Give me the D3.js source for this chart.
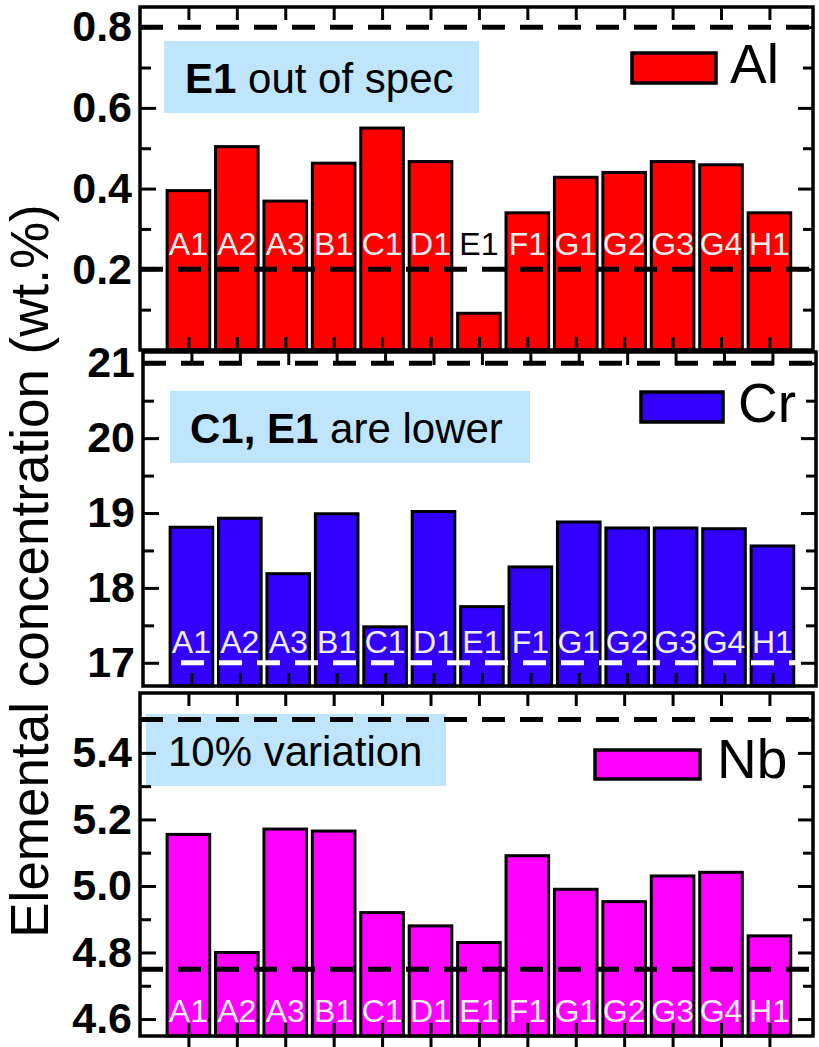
<!DOCTYPE html>
<html lang="en">
<head>
    <meta charset="UTF-8">
    <title>Elemental concentration</title>
    <script src="https://cdn.jsdelivr.net/npm/d3@7"></script>
    <style>
        body { margin: 0; background: #fff; }
        svg { display: block; font-family: "Liberation Sans", Arial, sans-serif; }
        .tick text { font-weight: bold; font-size: 43px; fill: #000; }
        .tick line { stroke: #000; stroke-width: 3px; }
    </style>
</head>
<body>
<div id="chart"></div>
<script>
    const width = 819;
    const height = 1047;

    // samples and measured values (wt.%)
    const samples = ["A1", "A2", "A3", "B1", "C1", "D1", "E1", "F1", "G1", "G2", "G3", "G4", "H1"];
    const alValues = [0.395, 0.504, 0.369, 0.463, 0.550, 0.467, 0.091, 0.340, 0.428, 0.440, 0.467, 0.459, 0.340];
    const crValues = [18.81, 18.93, 18.19, 18.99, 17.48, 19.02, 17.75, 18.28, 18.88, 18.80, 18.80, 18.79, 18.56];
    const nbValues = [5.155, 4.80, 5.171, 5.165, 4.92, 4.88, 4.83, 5.091, 4.99, 4.953, 5.03, 5.041, 4.85];

    // spec limits (dashed lines)
    const alLimits = [0.2, 0.8];
    const crLimits = [17, 21];
    const nbLimits = [4.75, 5.5];

    // tick values
    const alTicks = [0.2, 0.4, 0.6, 0.8];
    const alMinor = [0.1, 0.3, 0.5, 0.7];
    const crTicks = [17, 18, 19, 20, 21];
    const crMinor = [17.5, 18.5, 19.5, 20.5];
    const nbTicks = [4.6, 4.8, 5.0, 5.2, 5.4];
    const nbMinor = [4.7, 4.9, 5.1, 5.3, 5.5];

    const svg = d3.select("#chart")
        .append("svg")
        .attr("width", width)
        .attr("height", height);

    const panels = [
        {
            name: "Al", values: alValues, limits: alLimits, limitColor: "#000",
            ticks: alTicks, minor: alMinor, fmt: d3.format(".1f"),
            color: "#ff0000", domain: [0, 0.85], labelAt: 0.235,
            box: [140, 7, 813, 350],
            note: ["E1", " out of spec"], noteBox: [164, 41, 315, 72], noteText: [185, 93],
            legend: [632, 53, 84, 30], legendText: [730, 83], outerBottom: false
        },
        {
            name: "Cr", values: crValues, limits: crLimits, limitColor: "#fff",
            ticks: crTicks, minor: crMinor, fmt: d3.format("d"),
            color: "#3300ff", domain: [16.69, 21.15], labelAt: 17.13,
            box: [143, 352, 816, 686],
            note: ["C1, E1", " are lower"], noteBox: [170, 391, 360, 72], noteText: [190, 443],
            legend: [641, 392, 82, 30], legendText: [738, 422], outerBottom: false
        },
        {
            name: "Nb", values: nbValues, limits: nbLimits, limitColor: "#000",
            ticks: nbTicks, minor: nbMinor, fmt: d3.format(".1f"),
            color: "#ff00ff", domain: [4.549, 5.58], labelAt: 4.592,
            box: [140, 693, 813, 1036],
            note: ["", "10% variation"], noteBox: [146, 714, 300, 72], noteText: [168, 766],
            legend: [595, 750, 105, 29], legendText: [717, 778], outerBottom: true
        }
    ];

    panels.forEach(p => {
        const [x0, y0, x1, y1] = p.box;
        const x = d3.scaleLinear().domain([-1, 12.9]).range([x0, x1]);
        const y = d3.scaleLinear().domain(p.domain).range([y1, y0]);
        const step = x(1) - x(0);
        const bw = step * 0.88;

        const g = svg.append("g");

        // white background of the frame
        g.append("rect")
            .attr("x", x0).attr("y", y0)
            .attr("width", x1 - x0).attr("height", y1 - y0)
            .attr("fill", "#fff");

        // note box
        g.append("rect")
            .attr("x", p.noteBox[0]).attr("y", p.noteBox[1])
            .attr("width", p.noteBox[2]).attr("height", p.noteBox[3])
            .attr("fill", "#bee5fc");
        const nt = g.append("text")
            .attr("x", p.noteText[0]).attr("y", p.noteText[1])
            .attr("font-size", 42);
        if (p.note[0]) nt.append("tspan").attr("font-weight", "bold").text(p.note[0]);
        nt.append("tspan").text(p.note[1]);

        // legend
        g.append("rect")
            .attr("x", p.legend[0]).attr("y", p.legend[1])
            .attr("width", p.legend[2]).attr("height", p.legend[3])
            .attr("fill", p.color).attr("stroke", "#000").attr("stroke-width", 3.5);
        g.append("text")
            .attr("x", p.legendText[0]).attr("y", p.legendText[1])
            .attr("font-size", 55)
            .text(p.name);

        // bars
        g.selectAll("rect.bar")
            .data(p.values)
            .enter().append("rect")
            .attr("class", "bar")
            .attr("x", (d, i) => x(i) - bw / 2)
            .attr("width", bw)
            .attr("y", d => y(d))
            .attr("height", d => y(p.domain[0]) - y(d))
            .attr("fill", p.color)
            .attr("stroke", "#000")
            .attr("stroke-width", 3);

        // spec limit lines
        g.selectAll("line.limit")
            .data(p.limits)
            .enter().append("line")
            .attr("x1", x0).attr("x2", x1)
            .attr("y1", d => y(d)).attr("y2", d => y(d))
            .attr("stroke", (d, i) => i === 0 ? p.limitColor : "#000")
            .attr("stroke-width", 5)
            .attr("stroke-dasharray", "23,15");

        // sample labels
        g.selectAll("text.lab")
            .data(samples)
            .enter().append("text")
            .attr("class", "lab")
            .attr("x", (d, i) => x(i))
            .attr("y", y(p.labelAt))
            .attr("text-anchor", "middle")
            .attr("font-size", 32)
            .attr("fill", (d, i) => p.values[i] < p.labelAt ? "#000" : "#eeeeee")
            .text(d => d);

        // axes
        const idx = d3.range(samples.length);
        const addAxis = (axis, tx, ty) => {
            const a = g.append("g")
                .attr("transform", `translate(${tx},${ty})`)
                .call(axis);
            a.select(".domain").remove();
            return a;
        };
        addAxis(d3.axisLeft(y).tickValues(p.ticks).tickSize(-16).tickPadding(8).tickFormat(p.fmt), x0, 0);
        addAxis(d3.axisLeft(y).tickValues(p.minor).tickSize(-11).tickFormat(""), x0, 0);
        addAxis(d3.axisRight(y).tickValues(p.ticks).tickSize(-15).tickFormat(""), x1, 0);
        addAxis(d3.axisRight(y).tickValues(p.minor).tickSize(-10).tickFormat(""), x1, 0);
        addAxis(d3.axisTop(x).tickValues(idx).tickSize(-13).tickFormat(""), 0, y0);
        addAxis(d3.axisBottom(x).tickValues(idx).tickSize(-13).tickFormat(""), 0, y1);
        if (p.outerBottom) {
            addAxis(d3.axisBottom(x).tickValues(idx).tickSize(14).tickFormat(""), 0, y1);
        }

        // frame
        g.append("rect")
            .attr("x", x0).attr("y", y0)
            .attr("width", x1 - x0).attr("height", y1 - y0)
            .attr("fill", "none")
            .attr("stroke", "#000")
            .attr("stroke-width", 3.5);
    });

    // y title
    svg.append("text")
        .attr("transform", "translate(48,571) rotate(-90)")
        .attr("text-anchor", "middle")
        .attr("font-size", 53)
        .text("Elemental concentration (wt.%)");
</script>
</body>
</html>
